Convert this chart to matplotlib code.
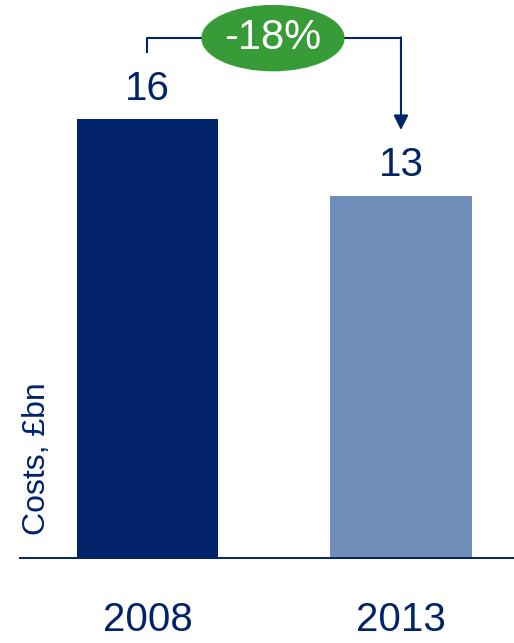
import matplotlib
matplotlib.use('Agg')
import matplotlib.pyplot as plt
from matplotlib.patches import Ellipse

# data
years = ['2008', '2013']
costs = [16.0, 13.2]
value_labels = ['16', '13']
change_label = '-18%'

navy = '#00236A'
light = '#6F8FBA'
green = '#379B38'

plt.rcParams['font.family'] = ['Liberation Sans', 'DejaVu Sans']

fig = plt.figure(figsize=(5.14, 6.43), dpi=100, facecolor='white')
ax = fig.add_axes([20 / 514, 85 / 643, 494 / 514, 558 / 643])

pos = list(range(len(years)))
ax.bar(pos, costs, width=0.56, color=[navy, light])
ax.set_xlim(-0.503, 1.446)
ax.set_ylim(0, 20.34)

for s in ['top', 'right', 'left']:
    ax.spines[s].set_visible(False)
ax.spines['bottom'].set_color(navy)
ax.spines['bottom'].set_linewidth(1.4)
ax.set_xticks([])
ax.set_yticks([])

# value labels above bars
for p, v, lab in zip(pos, costs, value_labels):
    ax.annotate(lab, (p, v), xytext=(0, 22), textcoords='offset points',
                ha='center', va='center', fontsize=29, color=navy)

# year labels under axis
for p, y in zip(pos, years):
    ax.text(p, -2.26, y, ha='center', va='center', fontsize=29, color=navy, clip_on=False)

ax.text(-0.436, 0.84, 'Costs, £bn', rotation=90, ha='center', va='bottom',
        fontsize=23, color=navy)

# bracket arrow with change label
yb = 18.95
ax.plot([pos[0], pos[0], pos[1]], [18.4, yb, yb], color=navy, lw=1.5, solid_capstyle='butt')
ax.annotate('', xy=(pos[1], 15.6), xytext=(pos[1], yb + 0.03),
            arrowprops=dict(arrowstyle='-|>', color=navy, lw=1.5,
                            mutation_scale=22, shrinkA=0, shrinkB=0))
xm = (pos[0] + pos[1]) / 2 - 0.005
ax.add_patch(Ellipse((xm, yb), 0.56, 2.37, color=green, zorder=3))
ax.text(xm, yb, change_label, ha='center', va='center', fontsize=30,
        color='white', zorder=4)

fig.savefig('out.png', dpi=100)
